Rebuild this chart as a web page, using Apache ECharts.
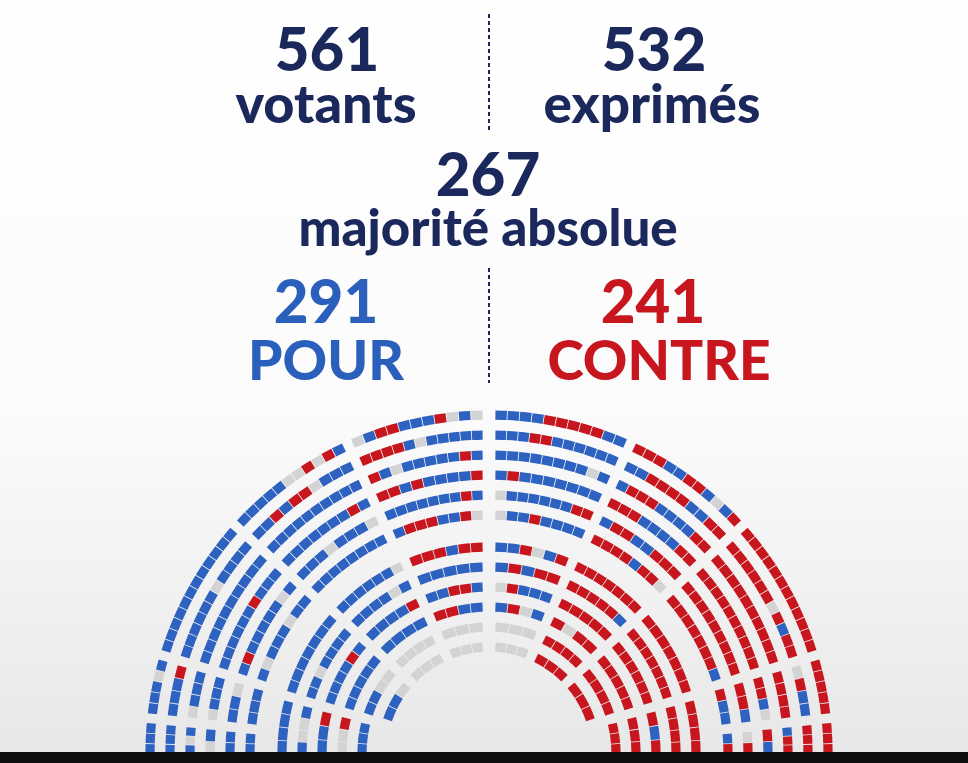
<!DOCTYPE html>
<html>
<head>
<meta charset="utf-8">
<script src="https://cdn.jsdelivr.net/npm/echarts@6/dist/echarts.min.js"></script>
<style>
  html, body { margin: 0; padding: 0; background: #fff; }
  #chart { width: 968px; height: 763px; }
</style>
</head>
<body>
<div id="chart"></div>
<script>
// results shown in the header
const votants = 561;
const exprimes = 532;
const majorite = 267;
const pour = 291;
const contre = 241;

// seats per row (outermost row first), each string read from the central aisle outward
// B = pour, R = contre, G = abstention / non-votant
const rightOuterA = ['BBBBRRRRRBB', 'BBBRRBBBBBB', 'BBBBBBBBGB', 'BRBBBBBBB', 'GBBBBBBRR', 'GBBRBBBB'];
const rightOuterB = ['RRRBBRRBGBR', 'BBRRRRBBRR', 'BRRRBBBBRR', 'RRRBBBBRR', 'BRRBBRRR', 'RRRRBRRG'];
const rightOuterC = ['RRRRRRRRRRRR', 'RRRRRRGRBRR', 'RRRRRRRRRR', 'RRRRRRRRRR', 'RRRRRRRRR', 'RRRRRRRB'];
const rightOuterD = ['RRRRR', 'GRBB', 'RRRR', 'RRBG', 'RRB', 'RBB'];
const rightOuterE = ['RRR', 'RRR', 'BRR', 'RB', 'GR', 'BR'];
const rightInnerA = ['BBRGBR', 'BRBRR', 'GRBBB', 'BRGB', 'GGG', 'GGG'];
const rightInnerB = ['RRRRRRR', 'RRRRRB', 'RRRRR', 'RGRR', 'RRRR', 'RRR'];
const rightInnerC = ['RRRRRRR', 'RRRRRRR', 'RRRRRR', 'RRRRR', 'RRRR', 'RRR'];
const rightInnerD = ['RRRR', 'RRRR', 'RBR', 'RRR', 'RRR', ''];

const leftOuterA = ['GBGRBBBRRBG', 'BBBBBGBRRRR', 'BRBBBBBGBR', 'RBBBBRBRR', 'BRBBBBBBB', 'GRBBRRRB'];
const leftOuterB = ['BRGRGGBBBBB', 'BBBGRRBRBB', 'BBBBBBBBBB', 'BRBBBBBBB', 'GBBBGBBB', 'BBBBBBBB'];
const leftOuterC = ['BBBBBBBBBBBB', 'BBBBGBBBBBB', 'BBBBBBBBBB', 'BBBRBBBBBB', 'BGBBBBBRB', 'BBGBBBGB'];
const leftOuterD = ['BGBBB', 'RBBB', 'BBBG', 'BBBG', 'GBB', 'BBB'];
const leftOuterE = ['BBB', 'BBB', 'BGB', 'BG', 'BB', 'BB'];
const leftInnerA = ['RRBRRR', 'BBBBB', 'BRRBB', 'BBRR', 'GGG', 'GGG'];
const leftInnerB = ['GBBBBBB', 'BGBBBB', 'RBBBB', 'BBBB', 'GGGG', 'GGG'];
const leftInnerC = ['BBBBBBB', 'BBBBGBB', 'BRBBBB', 'BBBBB', 'GGBB', 'GBB'];
const leftInnerD = ['BBBB', 'BGGB', 'RBB', 'RGG', 'BBB', ''];

// hemicycle geometry: row radii and sector limits (degrees, right half)
const ringRadius = [339, 319, 299, 279, 259, 239, 207, 187, 167, 147, 127, 107];
const outerSectors = [[90, 65.5], [65.5, 42], [42, 16.8], [16.8, 6], [6, 0]];
const innerSectors = [[90, 66.5], [66.5, 42.5], [42.5, 16], [16, 0]];

const seatColor = {B: '#2e62c1', R: '#c8161e', G: '#d3d3d3'};
const navy = '#1a285c';

const seats = [];
function addBlock(left, sectors, blockRows, rowOffset) {
    const toDeg = 180 / Math.PI;
    sectors.forEach((sec, si) => {
        blockRows[si].forEach((str, ri) => {
            if (!str.length) return;
            const r = ringRadius[rowOffset + ri];
            const hi = sec[0] - (sec[0] === 90 ? 6 : 4.5) / r * toDeg;
            const lo = sec[1] + (sec[1] === 0 ? 0 : 4.5) / r * toDeg;
            const step = (hi - lo) / str.length;
            const pad = 0.4 / r * toDeg;
            for (let k = 0; k < str.length; k++) {
                const a1 = hi - k * step - pad;
                const a0 = hi - (k + 1) * step + pad;
                seats.push({
                    value: left ? [r, 180 - a1, 180 - a0] : [r, a0, a1],
                    itemStyle: {color: seatColor[str[k]]}
                });
            }
        });
    });
}
addBlock(false, outerSectors, [rightOuterA, rightOuterB, rightOuterC, rightOuterD, rightOuterE], 0);
addBlock(false, innerSectors, [rightInnerA, rightInnerB, rightInnerC, rightInnerD], 6);
addBlock(true, outerSectors, [leftOuterA, leftOuterB, leftOuterC, leftOuterD, leftOuterE], 0);
addBlock(true, innerSectors, [leftInnerA, leftInnerB, leftInnerC, leftInnerD], 6);

function label(text, x, y, size, color) {
    return {
        type: 'text', z: 50,
        style: {
            text: text, x: x, y: y,
            font: '900 ' + size + 'px Lato',
            fill: color, align: 'center', verticalAlign: 'middle'
        }
    };
}

const chart = echarts.init(document.getElementById('chart'));
chart.setOption({
    animation: false,
    backgroundColor: {
        type: 'linear', x: 0, y: 0, x2: 0, y2: 1,
        colorStops: [
            {offset: 0, color: '#ffffff'},
            {offset: 0.55, color: '#fbfbfb'},
            {offset: 1, color: '#e7e7e7'}
        ]
    },
    polar: {center: [489, 754], radius: 344},
    radiusAxis: {type: 'value', min: 0, max: 344, show: false},
    angleAxis: {type: 'value', min: 0, max: 360, startAngle: 0, clockwise: false, show: false},
    series: [{
        type: 'custom',
        coordinateSystem: 'polar',
        data: seats,
        renderItem: function (params, api) {
            const cs = params.coordSys;
            const r = api.value(0);
            const pA = api.coord([r - 4.6, api.value(1)]);
            const pB = api.coord([r + 4.6, api.value(2)]);
            const r0 = Math.hypot(pA[0] - cs.cx, pA[1] - cs.cy);
            const r1 = Math.hypot(pB[0] - cs.cx, pB[1] - cs.cy);
            const start = Math.atan2(pB[1] - cs.cy, pB[0] - cs.cx);
            let end = Math.atan2(pA[1] - cs.cy, pA[0] - cs.cx);
            if (end <= start) end += Math.PI * 2;
            return {
                type: 'sector',
                shape: {cx: cs.cx, cy: cs.cy, r0: r0, r: r1, startAngle: start, endAngle: end, clockwise: true},
                style: {fill: api.visual('color')}
            };
        }
    }],
    graphic: [
        label(String(votants), 327, 52, 60, navy),
        label('votants', 326, 106, 54, navy),
        label(String(exprimes), 654, 52, 60, navy),
        label('exprimés', 652, 106, 53, navy),
        label(String(majorite), 488, 177, 60, navy),
        label('majorité absolue', 488, 230, 51, navy),
        label(String(pour), 326, 304, 60, '#2a5fbc'),
        label('POUR', 326, 362, 55, '#2a5fbc'),
        label(String(contre), 653, 304, 60, '#c8161e'),
        label('CONTRE', 659, 362, 55, '#c8161e'),
        {type: 'line', z: 50, shape: {x1: 489, y1: 14, x2: 489, y2: 131},
         style: {stroke: navy, lineWidth: 2, lineDash: [4, 3]}},
        {type: 'line', z: 50, shape: {x1: 489, y1: 268, x2: 489, y2: 383},
         style: {stroke: navy, lineWidth: 2, lineDash: [4, 3]}},
        {type: 'rect', z: 100, left: 0, bottom: 0, shape: {width: 968, height: 11},
         style: {fill: '#0e0e0e'}}
    ]
});
</script>
</body>
</html>
